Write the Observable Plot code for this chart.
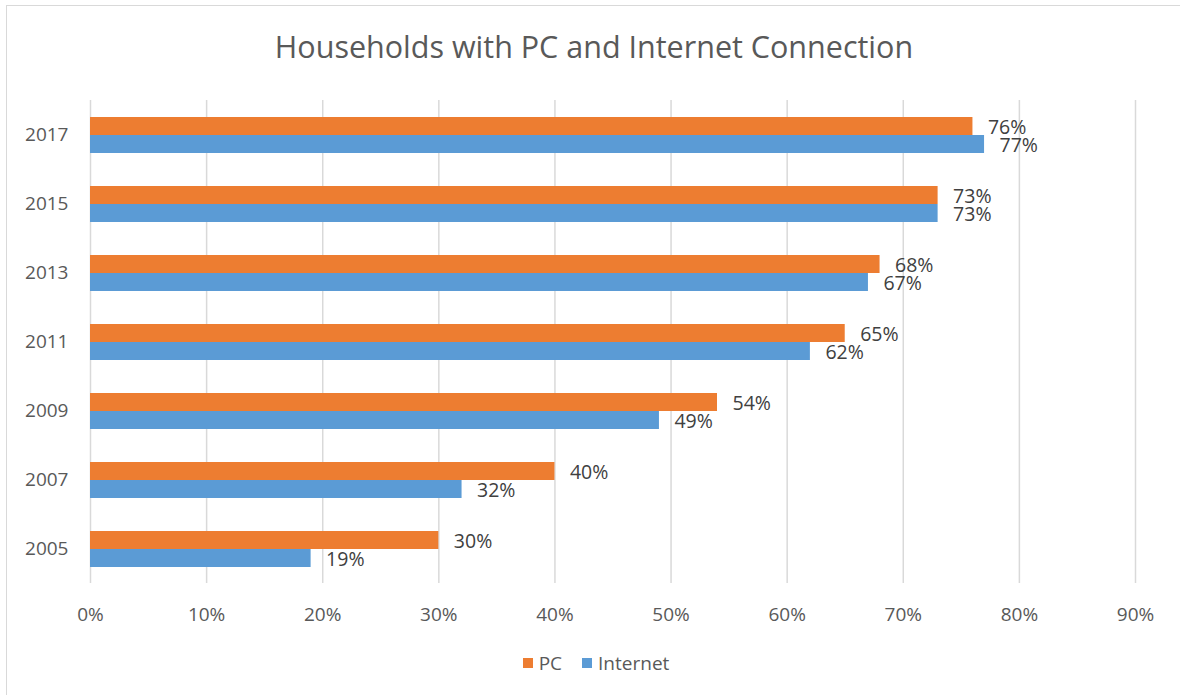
<!DOCTYPE html>
<html><head><meta charset="utf-8">
<script src="https://cdn.jsdelivr.net/npm/d3@7"></script>
<script src="https://cdn.jsdelivr.net/npm/@observablehq/plot@0.6"></script>
<style>
body{margin:0;width:1180px;height:695px;overflow:hidden;background:#fff;font-family:"Open Sans",sans-serif;position:relative}
#frame{position:absolute;left:6px;top:5px;width:1200px;height:800px;border:1px solid #d9d9d9}
#title{position:absolute;left:0;width:1188px;top:25px;text-align:center;font-size:30.5px;color:#595959;line-height:42px}
#chart{position:absolute;left:0;top:0}
#legend{position:absolute;top:649px;left:0;width:1192px;display:flex;justify-content:center;gap:20px;font-size:19px;color:#595959;line-height:28px}
#legend span.sw{display:inline-block;width:10px;height:10px;margin-right:6px;vertical-align:middle;position:relative;top:-2px}
</style></head>
<body>
<div id="frame"></div>
<div id="title">Households with PC and Internet Connection</div>
<div id="chart"></div>
<div id="legend"></div>
<script>
const years = ["2005","2007","2009","2011","2013","2015","2017"];
const pcValues = [0.30, 0.40, 0.54, 0.65, 0.68, 0.73, 0.76];
const internetValues = [0.19, 0.32, 0.49, 0.62, 0.67, 0.73, 0.77];
const seriesNames = ["PC", "Internet"];
const seriesColors = ["#ED7D31", "#5B9BD5"];
const xTicks = [0, 0.1, 0.2, 0.3, 0.4, 0.5, 0.6, 0.7, 0.8, 0.9];

const fmt = d3.format(".0%");
const data = years.flatMap((y, i) => [
  {year: y, series: "PC", value: pcValues[i]},
  {year: y, series: "Internet", value: internetValues[i]}
]);

const chart = Plot.plot({
  width: 1180, height: 640,
  marginTop: 98, marginBottom: 56, marginLeft: 90, marginRight: 45,
  style: {fontFamily: "Open Sans", fontSize: "19px", color: "#595959", background: "transparent"},
  x: {domain: [0, 0.9], ticks: xTicks, tickFormat: fmt, tickSize: 0, tickPadding: 24, label: null},
  fy: {domain: years.slice().reverse(), padding: 0, axis: "left", tickSize: 0, tickPadding: 22, label: null},
  y: {domain: seriesNames, paddingInner: 0, paddingOuter: 0.9, axis: null},
  color: {domain: seriesNames, range: seriesColors},
  marks: [
    Plot.ruleX(xTicks, {x: d => d, stroke: "#d9d9d9", strokeWidth: 1.5}),
    Plot.barX(data, {x: "value", y: "series", fy: "year", fill: "series"}),
    Plot.text(data, {x: "value", y: "series", fy: "year", text: d => fmt(d.value), dx: 15, dy: 1, textAnchor: "start", fill: "#404040", fontSize: 19.5})
  ]
});
document.getElementById("chart").appendChild(chart);

const legend = document.getElementById("legend");
seriesNames.forEach((s, i) => {
  const item = document.createElement("div");
  item.innerHTML = `<span class="sw" style="background:${seriesColors[i]}"></span>${s}`;
  legend.appendChild(item);
});
</script>
</body></html>
